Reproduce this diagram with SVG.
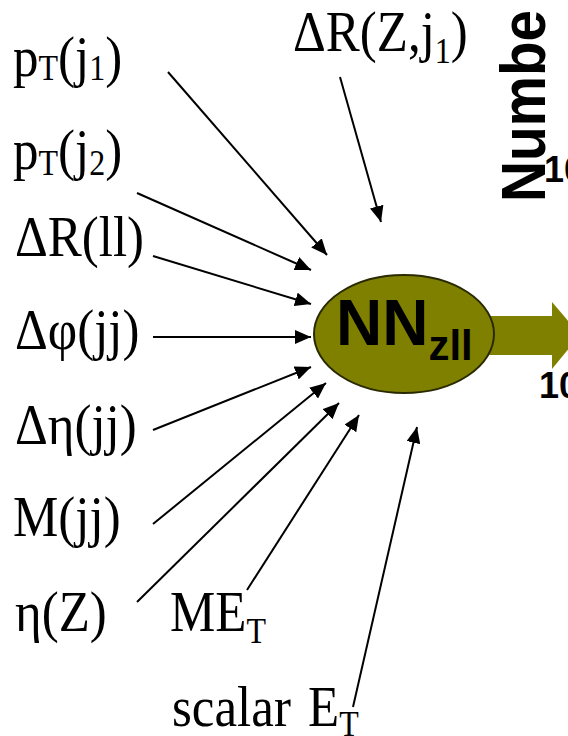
<svg xmlns="http://www.w3.org/2000/svg" width="568" height="736" viewBox="0 0 568 736">
<style>
.lbl{font-family:"Liberation Serif","Times New Roman",serif;font-size:51px;fill:#000}
.sub{font-size:32px}
.bold{font-family:"Liberation Sans",Arial,sans-serif;font-weight:bold;fill:#000}
.conn line{stroke:#000;stroke-width:2;fill:none;marker-end:url(#ah)}
</style>
<defs>
<marker id="ah" markerUnits="userSpaceOnUse" markerWidth="18" markerHeight="14" refX="16" refY="7" orient="auto">
<path d="M0,0 L16,7 L0,14 Z" fill="#000"/>
</marker>
</defs>
<rect width="568" height="736" fill="#fff"/>
<g id="axis-title">
<text class="bold" font-size="63" transform="translate(545,202) rotate(-90) scale(0.9,1)">Numbe</text>
<text class="bold" font-size="36" x="544" y="182">10</text>
<text class="bold" font-size="36" x="539" y="398">10</text>
</g>
<g id="output-arrow">
<rect x="480" y="316" width="73" height="39" fill="#808000"/>
<polygon points="552,302 580,335 552,369" fill="#808000"/>
</g>
<g id="nn">
<ellipse cx="404" cy="334" rx="90" ry="59" fill="#808000" stroke="#2a2a00" stroke-width="2"/>
<text class="bold" x="336" y="345" font-size="64">NN<tspan font-size="42" dy="15">zll</tspan></text>
</g>
<g class="conn" id="connectors">
<line x1="168" y1="72" x2="327" y2="255"/>
<line x1="340" y1="77" x2="381" y2="222"/>
<line x1="137" y1="193" x2="311" y2="270"/>
<line x1="153" y1="256" x2="311" y2="304"/>
<line x1="153" y1="337" x2="311" y2="337"/>
<line x1="153" y1="430" x2="311" y2="367"/>
<line x1="153" y1="524" x2="326" y2="383"/>
<line x1="137" y1="602" x2="339" y2="403"/>
<line x1="247" y1="590" x2="359" y2="415"/>
<line x1="353" y1="707" x2="417" y2="427"/>
</g>
<g id="pt-j1"><text class="lbl" transform="translate(13,76) scale(1,1.12)">p<tspan class="sub" dy="4">T</tspan><tspan dy="-4">(j</tspan><tspan class="sub" dy="4">1</tspan><tspan dy="-4">)</tspan></text></g>
<g id="pt-j2"><text class="lbl" transform="translate(13,169) scale(1,1.12)">p<tspan class="sub" dy="5">T</tspan><tspan dy="-5">(j</tspan><tspan class="sub" dy="5">2</tspan><tspan dy="-5">)</tspan></text></g>
<g id="dr-zj1"><text class="lbl" transform="translate(293,51) scale(1,1.12)">ΔR(Z,j<tspan class="sub" dy="11">1</tspan><tspan dy="-11">)</tspan></text></g>
<g id="dr-ll"><text class="lbl" transform="translate(15,256) scale(1,1.12)">ΔR(ll)</text></g>
<g id="dphi-jj"><text class="lbl" transform="translate(15,349) scale(1,1.12)">Δφ(jj)</text></g>
<g id="deta-jj"><text class="lbl" transform="translate(15,444) scale(1,1.12)">Δη(jj)</text></g>
<g id="m-jj"><text class="lbl" transform="translate(13,536) scale(1,1.12)">M(jj)</text></g>
<g id="eta-z"><text class="lbl" transform="translate(15,631) scale(1,1.12)">η(Z)</text></g>
<g id="met"><text class="lbl" transform="translate(170,631) scale(1,1.12)">ME<tspan class="sub" dy="11">T</tspan></text></g>
<g id="scalar-et"><text class="lbl" transform="translate(172,726) scale(1,1.12)">scalar<tspan x="136">E</tspan><tspan class="sub" dy="9">T</tspan></text></g>
</svg>
